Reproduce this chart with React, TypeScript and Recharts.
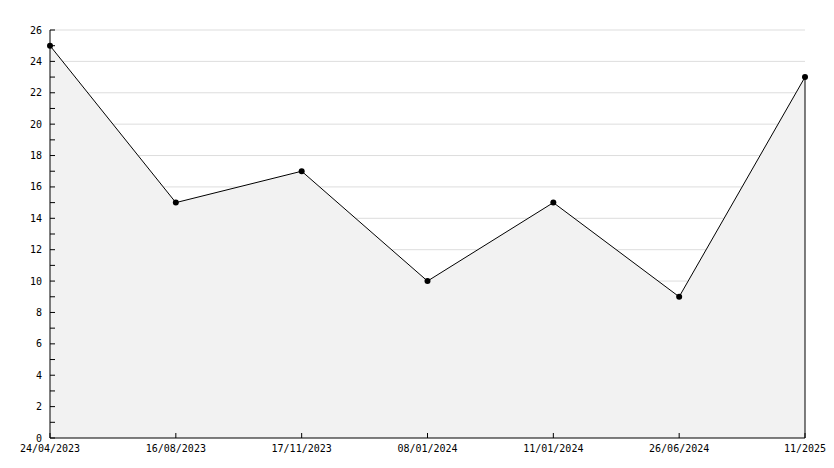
import { Area, AreaChart, CartesianGrid, ReferenceLine, XAxis, YAxis } from "recharts";

const DATES = [
  "24/04/2023",
  "16/08/2023",
  "17/11/2023",
  "08/01/2024",
  "11/01/2024",
  "26/06/2024",
  "11/2025",
];
const VALUES = [25, 15, 17, 10, 15, 9, 23];
const Y_TICKS = Array.from({ length: 27 }, (_, i) => i);
const GRID_VALUES = [2, 4, 6, 8, 10, 12, 14, 16, 18, 20, 22, 24, 26];

const chartData = DATES.map((date, i) => ({ date, value: VALUES[i] }));

const FONT = "'DejaVu Sans Mono', monospace";

function YTick(props: any) {
  const { x, y, payload } = props;
  const major = payload.value % 2 === 0;
  return (
    <g>
      <line x1={x} y1={y} x2={x + 5} y2={y} stroke="#000" />
      {major && (
        <text
          x={x - 8}
          y={y}
          dy={3.5}
          textAnchor="end"
          fontSize={10}
          fontFamily={FONT}
          fill="#000"
        >
          {payload.value}
        </text>
      )}
    </g>
  );
}

function XTick(props: any) {
  const { x, y, payload } = props;
  return (
    <g>
      <line x1={x} y1={y} x2={x} y2={y - 5} stroke="#000" />
      <text
        x={x}
        y={y}
        dy={14}
        textAnchor="middle"
        fontSize={10}
        fontFamily={FONT}
        fill="#000"
      >
        {payload.value}
      </text>
    </g>
  );
}

export default function App() {
  return (
    <div style={{ position: "absolute", left: 0, top: 0, background: "#fff" }}>
      <AreaChart
        width={834}
        height={468}
        data={chartData}
        margin={{ top: 30, right: 29, left: 0, bottom: 0 }}
      >
        <CartesianGrid
          vertical={false}
          horizontalValues={GRID_VALUES}
          stroke="#dddddd"
        />
        <XAxis
          dataKey="date"
          interval={0}
          height={30}
          axisLine={{ stroke: "#000" }}
          tickLine={false}
          tickSize={0}
          tickMargin={0}
          tick={<XTick />}
        />
        <YAxis
          width={50}
          domain={[0, 26]}
          ticks={Y_TICKS}
          interval={0}
          axisLine={{ stroke: "#000" }}
          tickLine={false}
          tickSize={0}
          tickMargin={0}
          tick={<YTick />}
        />
        <Area
          type="linear"
          dataKey="value"
          stroke="#000"
          strokeWidth={1}
          fill="#f2f2f2"
          fillOpacity={1}
          dot={{ r: 3, fill: "#000", stroke: "none" }}
          activeDot={false}
          isAnimationActive={false}
        />
        <ReferenceLine
          segment={[
            { x: DATES[DATES.length - 1], y: 0 },
            { x: DATES[DATES.length - 1], y: VALUES[VALUES.length - 1] },
          ]}
          stroke="#000"
        />
      </AreaChart>
    </div>
  );
}
